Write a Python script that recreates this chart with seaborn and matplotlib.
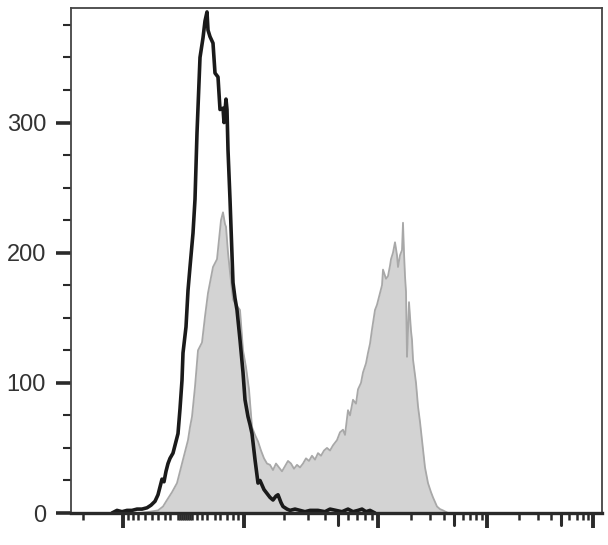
"""Flow cytometry overlay histogram: isotype control vs stained sample."""

import matplotlib

matplotlib.use("Agg")
import matplotlib.pyplot as plt
import numpy as np
import pandas as pd
import seaborn as sns

# channel positions (arbitrary display units, 0 = left edge of plot) and event counts
control_channel = [41, 46, 51, 56, 61, 66, 71, 76, 80, 84, 87, 89, 91, 93, 95, 97, 99,
                   102, 105, 107, 109, 111, 112, 115, 117, 119, 122, 124, 126, 129, 132,
                   134, 136, 137, 139, 142, 144, 147, 149, 152, 153, 155, 156, 157, 159,
                   162, 164, 166, 169, 172, 174, 177, 179, 181, 184, 187, 189, 193, 196,
                   199, 202, 205, 207, 210, 212, 216, 219, 224, 229, 234, 239, 247, 254,
                   259, 265, 271, 277, 282, 287, 291, 295, 299, 304]
control_count = [0, 2, 1, 2, 2, 3, 3, 4, 6, 9, 14, 20, 26, 24, 32, 38, 42,
                 46, 55, 61, 80, 102, 123, 143, 171, 189, 215, 241, 292, 350, 365,
                 378, 385, 371, 366, 361, 338, 335, 310, 311, 300, 318, 310, 279, 241,
                 177, 165, 156, 133, 108, 87, 74, 68, 61, 41, 23, 25, 18, 15,
                 12, 10, 13, 14, 8, 5, 3, 2, 3, 2, 1, 2, 2, 1,
                 3, 2, 1, 3, 1, 2, 3, 1, 2, 0]

stained_channel = [69, 79, 87, 92, 96, 101, 106, 109, 112, 115, 117, 119, 121, 124, 127,
                   129, 131, 134, 137, 139, 142, 144, 146, 148, 150, 152, 154, 155, 157,
                   159, 162, 165, 169, 172, 175, 178, 181, 184, 187, 190, 193, 196, 199,
                   202, 205, 208, 211, 214, 217, 220, 223, 226, 229, 232, 235, 238, 241,
                   244, 247, 250, 253, 256, 259, 262, 266, 269, 272, 274, 277, 279, 282,
                   285, 287, 290, 292, 295, 297, 299, 301, 304, 306, 309, 311, 312, 315,
                   317, 319, 320, 322, 324, 326, 327, 329, 331, 332, 333, 334, 335, 336,
                   337, 338, 340, 341, 342, 345, 347, 349, 351, 354, 357, 360, 362, 366,
                   369, 372, 377]
stained_count = [0, 1, 2, 5, 10, 16, 23, 32, 41, 50, 56, 66, 74, 97, 125,
                 128, 131, 151, 169, 177, 189, 192, 195, 210, 225, 231, 222, 220, 200,
                 185, 164, 160, 156, 125, 112, 95, 66, 60, 55, 48, 42, 38, 37,
                 33, 38, 35, 32, 36, 40, 38, 34, 37, 35, 38, 42, 40, 44,
                 41, 46, 44, 48, 50, 48, 52, 56, 62, 64, 60, 79, 75, 87,
                 84, 95, 100, 108, 115, 123, 130, 141, 156, 160, 169, 175, 187, 180,
                 182, 190, 195, 200, 208, 198, 189, 198, 202, 223, 200, 182, 170, 120,
                 140, 162, 140, 133, 118, 100, 82, 70, 56, 35, 23, 16, 12, 5,
                 3, 2, 0]

control = pd.DataFrame({"channel": control_channel, "count": control_count})
stained = pd.DataFrame({"channel": stained_channel, "count": stained_count})

# biexponential-style axis ticks (no labels on the x axis in the original)
major_x = [52, 173, 307, 416, 522]
minor_near_zero = [12, 57, 62, 67, 74, 81, 87, 94, 99] + list(range(107, 122, 2)) + \
    [126, 131, 136, 144, 149, 156, 162, 167]
decades = [(173, 134), (307, 109), (416, 106)]
minor_log = []
mid_log = []
for start, width in decades:
    for k in range(2, 10):
        pos = start + width * np.log10(k)
        (mid_log if k == 5 else minor_log).append(pos)

sns.set_style("white")
plt.rcParams["font.family"] = ["Liberation Sans", "DejaVu Sans"]

fig = plt.figure(figsize=(6.08, 5.45), dpi=100)
ax = fig.add_axes([71 / 608, 32 / 545, 531 / 608, 505 / 545])

ax.fill_between(stained["channel"], stained["count"], color="#d3d3d3", lw=0)
sns.lineplot(data=stained, x="channel", y="count", ax=ax, color="#a8a8a8", lw=1.3)
sns.lineplot(data=control, x="channel", y="count", ax=ax, color="#1a1a1a", lw=2.6)

ax.set_xlim(0, 531)
ax.set_ylim(0, 388)
ax.set(xlabel="", ylabel="")

ax.set_yticks([0, 100, 200, 300])
ax.set_yticks(np.arange(25, 388, 25), minor=True)
ax.set_xticks(major_x)
ax.set_xticks(minor_near_zero + minor_log, minor=True)
ax.set_xticklabels([])

ax.tick_params(axis="y", which="major", length=11, width=2.6, color="#2a2a2a",
               labelsize=17, labelcolor="#333333", pad=7, left=True)
ax.tick_params(axis="y", which="minor", length=5.5, width=1.5, color="#2a2a2a", left=True)
ax.tick_params(axis="x", which="major", length=11, width=2.8, color="#2a2a2a", bottom=True)
ax.tick_params(axis="x", which="minor", length=5, width=1.8, color="#2a2a2a", bottom=True)

# medium ticks at the 5x positions
for pos in mid_log:
    ax.plot([pos, pos], [0, -0.024], transform=ax.get_xaxis_transform(),
            color="#2a2a2a", lw=2.2, clip_on=False)

for side in ["top", "right", "left"]:
    ax.spines[side].set_color("#444444")
    ax.spines[side].set_linewidth(1.3)
ax.spines["bottom"].set_color("#2a2a2a")
ax.spines["bottom"].set_linewidth(2.4)

fig.savefig("out.png", dpi=100)
